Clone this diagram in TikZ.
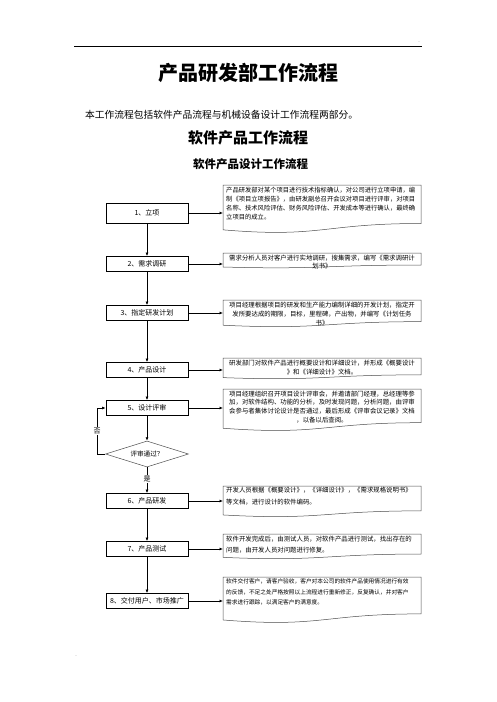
\documentclass[tikz,border=0pt]{standalone}
\usepackage{fontspec}
\setmainfont{Noto Sans CJK SC}
\usetikzlibrary{shapes.geometric,arrows.meta}
\tikzset{
  stepbox/.style={draw, line width=0.8pt, minimum width=82pt, minimum height=15pt, inner sep=0pt, font=\fontsize{7}{8}\selectfont},
  docline/.style={draw=black!70, line width=0.5pt},
  arr/.style={-{Latex[length=3.5pt,width=3pt]}, line width=0.7pt},
  lbl/.style={fill=white, inner sep=1pt, font=\fontsize{7}{8}\selectfont},
  dtl/.style={anchor=north west, inner sep=0pt, align=left},
  dtc/.style={anchor=north, inner sep=0pt, align=center},
}
\newcommand\mkdoc[3]{%
  \path[docline] (223,#2) -- (421,#2) -- (421,{#2+0.802*#3})
    .. controls (322,{#2+0.802*#3}) and (322,{#2+1.107*#3}) .. (223,{#2+0.934*#3}) -- cycle;
  \coordinate (#1) at (223,#2);}
\begin{document}
\begin{tikzpicture}[x=1pt,y=-1pt]
\useasboundingbox (0,0) rectangle (496,702);
% header
\draw[line width=0.8pt] (74,46) coordinate (hl) -- (422,46) coordinate (hr);
\node[inner sep=0pt, font=\fontsize{3}{3}\selectfont] (hm) at (419,42) {..};
\node[inner sep=0pt, font=\fontsize{3}{3}\selectfont] (fm) at (76,656) {..};
% titles
\node[inner sep=0pt, font=\fontsize{20}{22}\selectfont\bfseries] (title) at (248,73) {产品研发部工作流程};
\node[inner sep=0pt, anchor=west, font=\fontsize{9.75}{11}\selectfont] (intro) at (85,115) {本工作流程包括软件产品流程与机械设备设计工作流程两部分。};
\node[inner sep=0pt, font=\fontsize{15}{16}\selectfont\bfseries] (sub1) at (248,138) {软件产品工作流程};
\node[inner sep=0pt, font=\fontsize{11.5}{12}\selectfont\bfseries] (sub2) at (250.5,164) {软件产品设计工作流程};
% left steps
\node[stepbox, minimum height=20pt] (b1) at (147,213) {1、立项};
\node[stepbox] (b2) at (147,264) {2、需求调研};
\node[stepbox] (b3) at (147,313) {3、指定研发计划};
\node[stepbox] (b4) at (147,370) {4、产品设计};
\node[stepbox] (b5) at (147,408) {5、设计评审};
\node[draw=black!70, line width=0.5pt, shape=diamond, aspect=3.2, minimum width=83pt, minimum height=26pt, inner sep=0pt, font=\fontsize{6.6}{8}\selectfont] (dia) at (147,454) {评审通过？};
\node[stepbox] (b6) at (147,501) {6、产品研发};
\node[stepbox] (b7) at (147,549) {7、产品测试};
\node[stepbox] (b8) at (147,601) {8、交付用户、市场推广};
% documents
\mkdoc{d1}{185}{48}
\mkdoc{d2}{253}{15}
\mkdoc{d3}{300}{27}
\mkdoc{d4}{358}{21}
\mkdoc{d5}{389}{42}
\mkdoc{d6}{486}{31}
\mkdoc{d7}{534}{25}
\mkdoc{d8}{577}{46}
% document texts
\node[dtl, font=\fontsize{6.3}{9}\selectfont] (t1) at (226,187) {产品研发部对某个项目进行技术指标确认，对公司进行立项申请，编\\制《项目立项报告》，由研发副总召开会议对项目进行评审，对项目\\名称、技术风险评估、财务风险评估、开发成本等进行确认，最终确\\立项目的成立。};
\node[dtc, font=\fontsize{6.4}{8.5}\selectfont] (t2) at (322,254.5) {需求分析人员对客户进行实地调研，搜集需求，编写《需求调研计\\划书》};
\node[dtc, font=\fontsize{6.4}{9}\selectfont] (t3) at (322,301.5) {项目经理根据项目的研发和生产能力编制详细的开发计划，指定开\\发所要达成的期限，目标，里程碑，产出物，并编写《计划任务\\书》};
\node[dtc, font=\fontsize{6.4}{9}\selectfont] (t4) at (322,359.5) {研发部门对软件产品进行概要设计和详细设计，并形成《概要设计\\》和《详细设计》文档。};
\node[dtc, font=\fontsize{6.4}{8.7}\selectfont] (t5) at (322,390.5) {项目经理组织召开项目设计评审会，并邀请部门经理，总经理等参\\加，对软件结构、功能的分析，及时发现问题，分析问题，由评审\\会参与者集体讨论设计是否通过，最后形成《评审会议记录》文档\\，以备以后查阅。};
\node[dtl, font=\fontsize{6.4}{12}\selectfont] (t6) at (226,486.5) {开发人员根据《概要设计》，《详细设计》，《需求规格说明书》\\等文档，进行设计的软件编码。};
\node[dtl, font=\fontsize{6.4}{11}\selectfont] (t7) at (226,535.5) {软件开发完成后，由测试人员，对软件产品进行测试，找出存在的\\问题，由开发人员对问题进行修复。};
\node[dtl, font=\fontsize{5.7}{10.5}\selectfont] (t8) at (226,578.5) {软件交付客户，请客户验收，客户对本公司的软件产品使用情况进行有效\\的反馈，不足之处严格按照以上流程进行重新修正，反复确认，并对客户\\需求进行跟踪，以满足客户的满意度。};
% horizontal arrows
\draw[arr] (b1.east) -- (b1.east -| d1);
\draw[arr] (b2.east) -- (b2.east -| d2);
\draw[arr] (b3.east) -- (b3.east -| d3);
\draw[arr] (b4.east) -- (b4.east -| d4);
\draw[arr] (b5.east) -- (b5.east -| d5);
\draw[arr] (b6.east) -- (b6.east -| d6);
\draw[arr] (b7.east) -- (b7.east -| d7);
\draw[arr] (b8.east) -- (b8.east -| d8);
% vertical arrows
\draw[arr] (b1) -- (b2);
\draw[arr] (b2) -- (b3);
\draw[arr] (b3) -- (b4);
\draw[arr] (b4) -- (b5);
\draw[arr] (b5) -- (dia);
\draw[arr] (dia.south) -- node[lbl, pos=0.45] (yes) {是} (b6.north);
\draw[arr] (b6) -- (b7);
\draw[arr] (b7) -- (b8);
% loop back
\coordinate (lp) at (97,454);
\draw[arr] (dia.west) -- (lp) |- node[lbl, pos=0.25] (no) {否} (b5.west);
\end{tikzpicture}
\end{document}
